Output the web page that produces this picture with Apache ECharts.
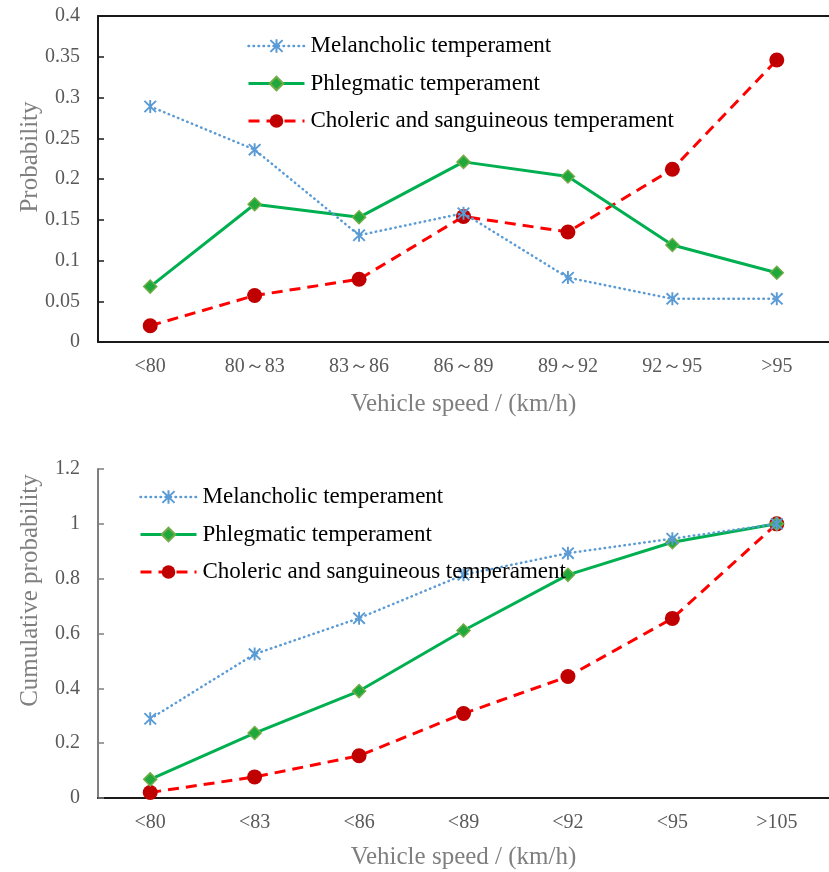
<!DOCTYPE html>
<html>
<head>
<meta charset="utf-8">
<script src="https://cdn.jsdelivr.net/npm/echarts@6/dist/echarts.min.js"></script>
<style>
  html, body { margin: 0; padding: 0; background: #fff; }
  #chart { width: 829px; height: 872px; }
</style>
</head>
<body>
<div id="chart"></div>
<script>
  // speed groups
  const rangeCats = ['<80', '80～83', '83～86', '86～89', '89～92', '92～95', '>95']
  const cumCats = ['<80', '<83', '<86', '<89', '<92', '<95', '>105']
  const seriesNames = ['Melancholic temperament', 'Phlegmatic temperament', 'Choleric and sanguineous temperament']

  // probability per speed group
  const melancholic = [0.289, 0.236, 0.131, 0.158, 0.079, 0.053, 0.053]
  const phlegmatic = [0.068, 0.169, 0.153, 0.221, 0.203, 0.119, 0.085]
  const choleric = [0.020, 0.057, 0.077, 0.154, 0.135, 0.212, 0.346]

  // cumulative probability
  const melancholicCum = [0.289, 0.525, 0.656, 0.814, 0.893, 0.946, 1.0]
  const phlegmaticCum = [0.068, 0.237, 0.390, 0.611, 0.814, 0.933, 1.0]
  const cholericCum = [0.020, 0.077, 0.154, 0.308, 0.443, 0.655, 1.0]

  const font = 'Liberation Serif'
  const grey = '#595959'
  // asterisk marker made of three thin bars
  const asterisk = 'path://M-1,-7L1,-7L1,7L-1,7Z' +
    'M-5.29,-6.71L6.71,5.29L5.29,6.71L-6.71,-5.29Z' +
    'M-6.71,5.29L5.29,-6.71L6.71,-5.29L-5.29,6.71Z'

  const lineStyles = [
    {color: '#5b9bd5', width: 2.5, type: [0.5, 4.5], cap: 'round'},
    {color: '#00b050', width: 3, type: 'solid'},
    {color: '#ff0000', width: 3, type: [11, 7]}
  ]

  function makeSeries (data, idx, k) {
    const base = {
      name: seriesNames[k],
      type: 'line',
      xAxisIndex: idx,
      yAxisIndex: idx,
      data: data,
      z: 3 - k,
      lineStyle: lineStyles[k]
    }
    if (k === 0) {
      return Object.assign(base, {
        symbol: asterisk,
        symbolSize: 13,
        itemStyle: {color: '#5b9bd5'}
      })
    }
    if (k === 1) {
      return Object.assign(base, {
        symbol: 'diamond',
        symbolSize: 13,
        itemStyle: {color: '#1fa83c', borderColor: '#70ad47', borderWidth: 1.5}
      })
    }
    return Object.assign(base, {
      symbol: 'circle',
      symbolSize: 15,
      itemStyle: {color: '#c00000'}
    })
  }

  function xAxisFor (cats, grid) {
    return {
      type: 'category',
      gridIndex: grid,
      data: cats,
      boundaryGap: true,
      axisLine: {lineStyle: {color: '#1a1a1a', width: 2}},
      axisTick: {inside: true, length: 6, lineStyle: {color: '#1a1a1a', width: 1.5}},
      axisLabel: {color: grey, fontFamily: font, fontSize: 20, margin: 15},
      name: 'Vehicle speed / (km/h)',
      nameLocation: 'middle',
      nameGap: grid === 0 ? 50 : 47,
      nameMoveOverlap: false,
      nameTextStyle: {color: '#7f7f7f', fontFamily: font, fontSize: 25}
    }
  }

  function yAxisFor (grid, max, interval, name, lineColor, pad) {
    return {
      type: 'value',
      gridIndex: grid,
      min: 0,
      max: max,
      interval: interval,
      splitLine: {show: false},
      axisLine: {show: true, lineStyle: {color: lineColor, width: 2}},
      axisTick: {show: true, inside: true, length: 6, lineStyle: {color: lineColor, width: 1.5}},
      axisLabel: {color: grey, fontFamily: font, fontSize: 20, margin: 18},
      name: name,
      nameLocation: 'middle',
      nameGap: 55,
      nameMoveOverlap: false,
      nameTextStyle: {color: '#7f7f7f', fontFamily: font, fontSize: 25, padding: [0, 0, 0, pad]}
    }
  }

  const legendText = {color: '#000', fontFamily: font, fontSize: 23, lineHeight: 26, padding: [0, 0, 0, 1]}
  const legendData = seriesNames.map((n, i) => ({name: n, lineStyle: {width: lineStyles[i].width}}))

  const chart = echarts.init(document.getElementById('chart'))
  chart.setOption({
    backgroundColor: '#fff',
    animation: false,
    grid: [
      {left: 98, top: 16, width: 742, height: 326},
      {left: 98, top: 469, width: 742, height: 329}
    ],
    legend: [
      {
        data: legendData,
        orient: 'vertical',
        left: 242,
        top: 28,
        itemWidth: 56,
        itemHeight: 17,
        itemGap: 11.5,
        textStyle: legendText
      },
      {
        data: legendData,
        orient: 'vertical',
        left: 134,
        top: 479,
        itemWidth: 56,
        itemHeight: 17,
        itemGap: 11.5,
        textStyle: legendText
      }
    ],
    xAxis: [
      xAxisFor(rangeCats, 0),
      xAxisFor(cumCats, 1),
      // top frame line of the first chart
      {
        type: 'category',
        gridIndex: 0,
        position: 'top',
        data: rangeCats,
        axisLine: {lineStyle: {color: '#1a1a1a', width: 2}},
        axisTick: {show: false},
        axisLabel: {show: false}
      }
    ],
    yAxis: [
      yAxisFor(0, 0.4, 0.05, 'Probability', '#1a1a1a', 44),
      yAxisFor(1, 1.2, 0.2, 'Cumulative probability', '#7f7f7f', 86)
    ],
    series: [
      makeSeries(melancholic, 0, 0),
      makeSeries(phlegmatic, 0, 1),
      makeSeries(choleric, 0, 2),
      makeSeries(melancholicCum, 1, 0),
      makeSeries(phlegmaticCum, 1, 1),
      makeSeries(cholericCum, 1, 2)
    ]
  })
</script>
</body>
</html>
